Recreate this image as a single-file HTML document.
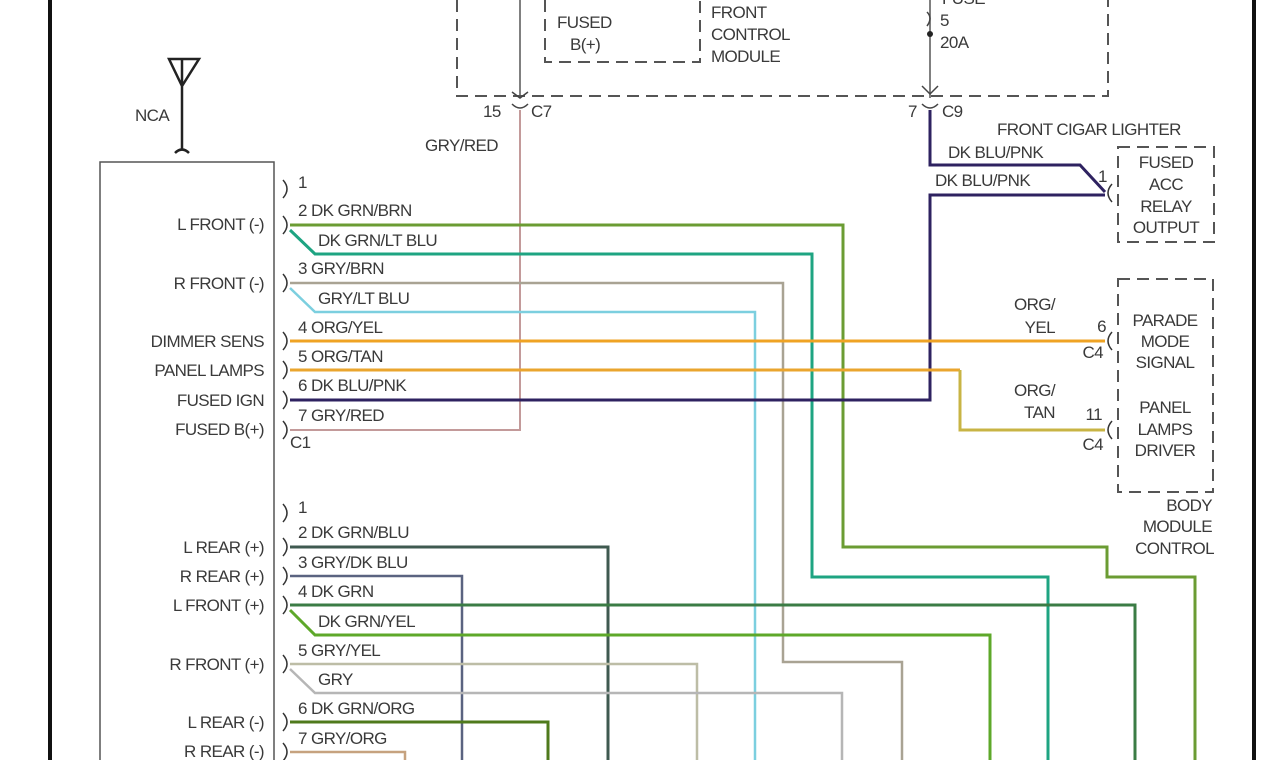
<!DOCTYPE html>
<html><head><meta charset="utf-8"><style>
html,body{margin:0;padding:0;background:#fff;width:1278px;height:760px;overflow:hidden}
svg{display:block}
text{font-family:"Liberation Sans",sans-serif;font-size:17px;fill:#3a3a3a;letter-spacing:-0.6px}
</style></head><body>
<svg width="1278" height="760" viewBox="0 0 1278 760" xmlns="http://www.w3.org/2000/svg">
<rect width="1278" height="760" fill="#fff"/>
<line x1="50" y1="0" x2="50" y2="760" stroke="#111" stroke-width="4"/>
<line x1="1254" y1="0" x2="1254" y2="760" stroke="#111" stroke-width="4"/>
<g fill="none" stroke="#555" stroke-width="2" stroke-dasharray="12,7">
<polyline points="457,0 457,96 1108,96 1108,0"/>
<polyline points="545,0 545,62 700,62 700,0"/>
<rect x="1118" y="147" width="96" height="95"/>
<rect x="1118" y="279" width="95" height="213"/>
</g>
<text x="557" y="28">FUSED</text><text x="570" y="50">B(+)</text>
<text x="711" y="18">FRONT</text><text x="711" y="40">CONTROL</text><text x="711" y="62">MODULE</text>
<text x="942" y="4">FUSE</text><text x="940" y="26">5</text><text x="940" y="48">20A</text>
<line x1="520" y1="0" x2="520" y2="98" stroke="#555" stroke-width="1.5"/>
<path d="M512,92 L520,98 L528,92 M512,104 Q520,112 528,104" fill="none" stroke="#444" stroke-width="1.5"/>
<text x="483" y="117">15</text><text x="531" y="117">C7</text>
<text x="425" y="151">GRY/RED</text>
<line x1="930" y1="0" x2="930" y2="98" stroke="#555" stroke-width="1.5"/>
<path d="M927,12 q6,6 0,14" fill="none" stroke="#444" stroke-width="1.5"/>
<circle cx="930" cy="34" r="3" fill="#222"/>
<path d="M922,86 L930,94 L938,86 M922,104 Q930,112 938,104" fill="none" stroke="#444" stroke-width="1.5"/>
<text x="908" y="117">7</text><text x="942" y="117">C9</text>
<path d="M169,59 L199,59 L182,86 Z M182,59 L182,150 M175,153 Q182,146 189,153" fill="none" stroke="#222" stroke-width="2.5"/>
<text x="135" y="121">NCA</text>
<polyline points="100,760 100,162 274,162 274,760" fill="none" stroke="#555" stroke-width="1.5"/>
<g fill="none" stroke-width="3">
<polyline points="520,110 520,430 290,430" stroke="#c39a9a" stroke-width="2"/>
<polyline points="290,225 843,225 843,547 1107,547 1107,577 1195,577 1195,760" stroke="#6b9c33"/>
<polyline points="290,230 315,254 812,254 812,577 1048,577 1048,760" stroke="#1ea482"/>
<polyline points="290,283 783,283 783,662 902,662 902,760" stroke="#a9a393" stroke-width="2.5"/>
<polyline points="290,288 315,312 755,312 755,760" stroke="#7ccfdf" stroke-width="2.5"/>
<polyline points="930,110 930,165 1080,165 1105,192" stroke="#2e2260"/>
<polyline points="1105,195 930,195 930,400 290,400" stroke="#2e2260"/>
<polyline points="290,341 1105,341" stroke="#efa324"/>
<polyline points="290,370 960,370" stroke="#eaa52e"/>
<polyline points="960,370 960,430 1105,430" stroke="#c8b444"/>
<polyline points="290,547 608,547 608,760" stroke="#3f5a50"/>
<polyline points="290,576 462,576 462,760" stroke="#5a6380" stroke-width="2.5"/>
<polyline points="290,605 1135,605 1135,760" stroke="#3b7c45"/>
<polyline points="290,610 315,635 990,635 990,760" stroke="#5ea82a"/>
<polyline points="290,664 697,664 697,760" stroke="#bdbda6" stroke-width="2.5"/>
<polyline points="290,669 315,693 842,693 842,760" stroke="#b6b6b6" stroke-width="2.5"/>
<polyline points="290,722 548,722 548,760" stroke="#4f7a1c"/>
<polyline points="290,752 405,752 405,760" stroke="#c6a27f" stroke-width="2.5"/>
</g>
<g fill="none" stroke="#333" stroke-width="1.5">
<path d="M283,180 q8,9 0,18 M283,216 q8,9 0,18 M283,274 q8,9 0,18 M283,332 q8,9 0,18 M283,361 q8,9 0,18 M283,391 q8,9 0,18 M283,421 q8,9 0,18 M283,504 q8,9 0,18 M283,538 q8,9 0,18 M283,567 q8,9 0,18 M283,596 q8,9 0,18 M283,655 q8,9 0,18 M283,713 q8,9 0,18 M283,743 q8,9 0,18"/>
<path d="M1112,184 q-8,9 0,18 M1112,332 q-8,9 0,18 M1112,421 q-8,9 0,18"/>
</g>
<text x="298" y="188">1</text>
<text x="298" y="216">2 DK GRN/BRN</text>
<text x="318" y="246">DK GRN/LT BLU</text>
<text x="298" y="274">3 GRY/BRN</text>
<text x="318" y="304">GRY/LT BLU</text>
<text x="298" y="333">4 ORG/YEL</text>
<text x="298" y="362">5 ORG/TAN</text>
<text x="298" y="391">6 DK BLU/PNK</text>
<text x="298" y="421">7 GRY/RED</text>
<text x="290" y="448">C1</text>
<g text-anchor="end">
<text x="264" y="230">L FRONT (-)</text>
<text x="264" y="289">R FRONT (-)</text>
<text x="264" y="347">DIMMER SENS</text>
<text x="264" y="376">PANEL LAMPS</text>
<text x="264" y="406">FUSED IGN</text>
<text x="264" y="435">FUSED B(+)</text>
<text x="264" y="553">L REAR (+)</text>
<text x="264" y="582">R REAR (+)</text>
<text x="264" y="611">L FRONT (+)</text>
<text x="264" y="670">R FRONT (+)</text>
<text x="264" y="728">L REAR (-)</text>
<text x="264" y="757">R REAR (-)</text>
</g>
<text x="298" y="513">1</text>
<text x="298" y="538">2 DK GRN/BLU</text>
<text x="298" y="568">3 GRY/DK BLU</text>
<text x="298" y="597">4 DK GRN</text>
<text x="318" y="627">DK GRN/YEL</text>
<text x="298" y="656">5 GRY/YEL</text>
<text x="318" y="685">GRY</text>
<text x="298" y="714">6 DK GRN/ORG</text>
<text x="298" y="744">7 GRY/ORG</text>
<text x="997" y="135">FRONT CIGAR LIGHTER</text>
<text x="948" y="158">DK BLU/PNK</text>
<text x="935" y="186">DK BLU/PNK</text>
<text x="1098" y="182">1</text>
<g text-anchor="middle">
<text x="1166" y="168">FUSED</text><text x="1166" y="190">ACC</text><text x="1166" y="212">RELAY</text><text x="1166" y="233">OUTPUT</text>
<text x="1165" y="326">PARADE</text><text x="1165" y="347">MODE</text><text x="1165" y="368">SIGNAL</text>
<text x="1165" y="413">PANEL</text><text x="1165" y="435">LAMPS</text><text x="1165" y="456">DRIVER</text>
</g>
<g text-anchor="end">
<text x="1055" y="310">ORG/</text><text x="1055" y="333">YEL</text>
<text x="1055" y="396">ORG/</text><text x="1055" y="418">TAN</text>
<text x="1106" y="332">6</text><text x="1103" y="358">C4</text>
<text x="1102" y="420">11</text><text x="1103" y="450">C4</text>
<text x="1212" y="511">BODY</text><text x="1212" y="532">MODULE</text><text x="1214" y="554">CONTROL</text>
</g>
</svg>
</body></html>
